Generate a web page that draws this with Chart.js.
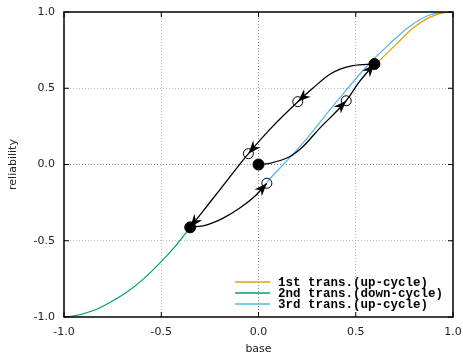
<!DOCTYPE html>
<html>
<head>
<meta charset="utf-8">
<script src="https://cdn.jsdelivr.net/npm/chart.js@4.4.1/dist/chart.umd.min.js"></script>
<style>
html, body { margin: 0; padding: 0; background: #fff; }
</style>
</head>
<body>
<canvas id="hysChart" width="463" height="358"></canvas>
<script>
// tick values shared by both axes
const axisTicks = [-1.0, -0.5, 0.0, 0.5, 1.0];

// coloured curves
const trans1X = [0.6, 0.708, 0.793, 0.879, 0.965, 1.0];
const trans1Y = [0.655, 0.788, 0.893, 0.965, 0.998, 1.0];
const trans2X = [-1.0, -0.97, -0.852, -0.766, -0.68, -0.594, -0.509, -0.423, -0.351];
const trans2Y = [-1.0, -0.998, -0.959, -0.906, -0.84, -0.753, -0.648, -0.528, -0.412];
const trans3X = [0.043, 0.228, 0.4, 0.571, 0.682, 0.776, 0.879, 0.946, 1.0];
const trans3Y = [-0.115, 0.14, 0.41, 0.664, 0.80, 0.905, 0.98, 0.998, 1.0];

// black transition paths (with arrows)
const downPathX = [0.596, 0.485, 0.42, 0.365, 0.279, 0.202, 0.057, -0.052, -0.2, -0.286, -0.351];
const downPathY = [0.659, 0.648, 0.625, 0.59, 0.50, 0.412, 0.229, 0.071, -0.168, -0.307, -0.412];
const upPath1X = [0.0, 0.057, 0.159, 0.228, 0.314, 0.451, 0.519, 0.596];
const upPath1Y = [0.0, 0.008, 0.051, 0.117, 0.237, 0.418, 0.543, 0.659];
const upPath2X = [-0.351, -0.269, -0.184, -0.098, -0.012, 0.043];
const upPath2Y = [-0.412, -0.397, -0.353, -0.287, -0.2, -0.123];

// markers
const filledX = [0.0, 0.596, -0.351];
const filledY = [0.0, 0.659, -0.412];
const openX = [0.202, -0.052, 0.043, 0.451];
const openY = [0.412, 0.071, -0.123, 0.418];

const pts = (xs, ys) => xs.map((v, i) => ({x: v, y: ys[i]}));

Chart.defaults.font.family = '"DejaVu Sans", sans-serif';
Chart.defaults.font.size = 11;
Chart.defaults.color = '#222';

const arrowPlugin = {
  id: 'arrowHeads',
  afterDatasetsDraw(chart) {
    const {ctx, scales: {x, y}} = chart;
    chart.data.datasets.forEach(ds => {
      if (!ds.arrowAt) return;
      ds.arrowAt.forEach(i => {
        const tip = ds.data[i], prev = ds.data[i - 1];
        const tx = x.getPixelForValue(tip.x), ty = y.getPixelForValue(tip.y);
        const px = x.getPixelForValue(prev.x), py = y.getPixelForValue(prev.y);
        ctx.save();
        ctx.translate(tx, ty);
        ctx.rotate(Math.atan2(ty - py, tx - px));
        ctx.beginPath();
        ctx.moveTo(0, 0);
        ctx.lineTo(-13, -5);
        ctx.lineTo(-9, 0);
        ctx.lineTo(-13, 5);
        ctx.closePath();
        ctx.fillStyle = '#000';
        ctx.fill();
        ctx.restore();
      });
    });
  }
};

const framePlugin = {
  id: 'frame',
  afterDraw(chart) {
    const {ctx, chartArea: {left, right, top, bottom}, scales: {x, y}} = chart;
    ctx.save();
    ctx.strokeStyle = '#000';
    ctx.lineWidth = 1;
    ctx.beginPath();
    axisTicks.forEach(v => {
      const xp = x.getPixelForValue(v), yp = y.getPixelForValue(v);
      ctx.moveTo(xp, bottom); ctx.lineTo(xp, bottom - 5);
      ctx.moveTo(xp, top); ctx.lineTo(xp, top + 5);
      ctx.moveTo(left, yp); ctx.lineTo(left + 5, yp);
      ctx.moveTo(right, yp); ctx.lineTo(right - 5, yp);
    });
    ctx.stroke();
    ctx.lineWidth = 1.5;
    ctx.strokeRect(left, top, right - left, bottom - top);
    ctx.restore();
  }
};

const keyPlugin = {
  id: 'key',
  afterDraw(chart) {
    const {ctx, chartArea: {right, bottom}} = chart;
    const items = chart.data.datasets.filter(ds => ds.inKey);
    ctx.save();
    ctx.font = 'bold 12.5px "Liberation Mono", monospace';
    ctx.textBaseline = 'middle';
    ctx.fillStyle = '#000';
    items.forEach((ds, i) => {
      const yy = bottom - 35 + i * 11;
      ctx.strokeStyle = ds.borderColor;
      ctx.lineWidth = 1.5;
      ctx.beginPath();
      ctx.moveTo(right - 218, yy);
      ctx.lineTo(right - 183, yy);
      ctx.stroke();
      ctx.fillText(ds.label, right - 175, yy + 1);
    });
    ctx.restore();
  }
};

const gridColor = c => {
  const v = c.tick ? c.tick.value : null;
  if (v === -1 || v === 1) return 'rgba(0,0,0,0)';
  return v === 0 ? '#888' : '#bbb';
};

const ctx = document.getElementById('hysChart').getContext('2d');
new Chart(ctx, {
  type: 'line',
  data: {
    datasets: [
      { label: 'filled', data: pts(filledX, filledY), showLine: false, pointRadius: 5.5,
        pointBackgroundColor: '#000', pointBorderColor: '#000', order: 0 },
      { label: 'open', data: pts(openX, openY), showLine: false, pointRadius: 5,
        pointBackgroundColor: 'rgba(0,0,0,0)', pointBorderColor: '#000', pointBorderWidth: 1, order: 0 },
      { label: 'down path', data: pts(downPathX, downPathY), borderColor: '#000', borderWidth: 1.3,
        pointRadius: 0, cubicInterpolationMode: 'monotone', arrowAt: [5, 7, 10], order: 1 },
      { label: 'up path 1', data: pts(upPath1X, upPath1Y), borderColor: '#000', borderWidth: 1.3,
        pointRadius: 0, cubicInterpolationMode: 'monotone', arrowAt: [5, 7], order: 1 },
      { label: 'up path 2', data: pts(upPath2X, upPath2Y), borderColor: '#000', borderWidth: 1.3,
        pointRadius: 0, cubicInterpolationMode: 'monotone', arrowAt: [5], order: 1 },
      { label: '1st trans.(up-cycle)', data: pts(trans1X, trans1Y), borderColor: '#E69F00',
        borderWidth: 1.2, pointRadius: 0, cubicInterpolationMode: 'monotone', inKey: true, order: 2 },
      { label: '2nd trans.(down-cycle)', data: pts(trans2X, trans2Y), borderColor: '#009E73',
        borderWidth: 1.2, pointRadius: 0, cubicInterpolationMode: 'monotone', inKey: true, order: 2 },
      { label: '3rd trans.(up-cycle)', data: pts(trans3X, trans3Y), borderColor: '#56B4E9',
        borderWidth: 1.2, pointRadius: 0, cubicInterpolationMode: 'monotone', inKey: true, order: 2 }
    ]
  },
  options: {
    responsive: false,
    animation: false,
    layout: { padding: { top: 12, right: 10, left: 0, bottom: 0 } },
    scales: {
      x: {
        type: 'linear', min: -1, max: 1,
        afterFit: s => { s.height = 41; s.paddingLeft = 0; s.paddingRight = 0; },
        ticks: { stepSize: 0.5, padding: 9, maxRotation: 0, callback: v => v.toFixed(1) },
        grid: { color: gridColor, drawTicks: false },
        border: { display: false, dash: [1, 2] },
        title: { display: true, text: 'base', padding: { top: 0, bottom: 2 } }
      },
      y: {
        type: 'linear', min: -1, max: 1,
        afterFit: s => { s.width = 64; s.paddingTop = 0; s.paddingBottom = 0; },
        ticks: { stepSize: 0.5, padding: 9, callback: v => v.toFixed(1) },
        grid: { color: gridColor, drawTicks: false },
        border: { display: false, dash: [1, 2] },
        title: { display: true, text: 'reliability', padding: { top: 7, bottom: 0 } }
      }
    },
    plugins: {
      legend: { display: false },
      tooltip: { enabled: false }
    }
  },
  plugins: [arrowPlugin, framePlugin, keyPlugin]
});
</script>
</body>
</html>
